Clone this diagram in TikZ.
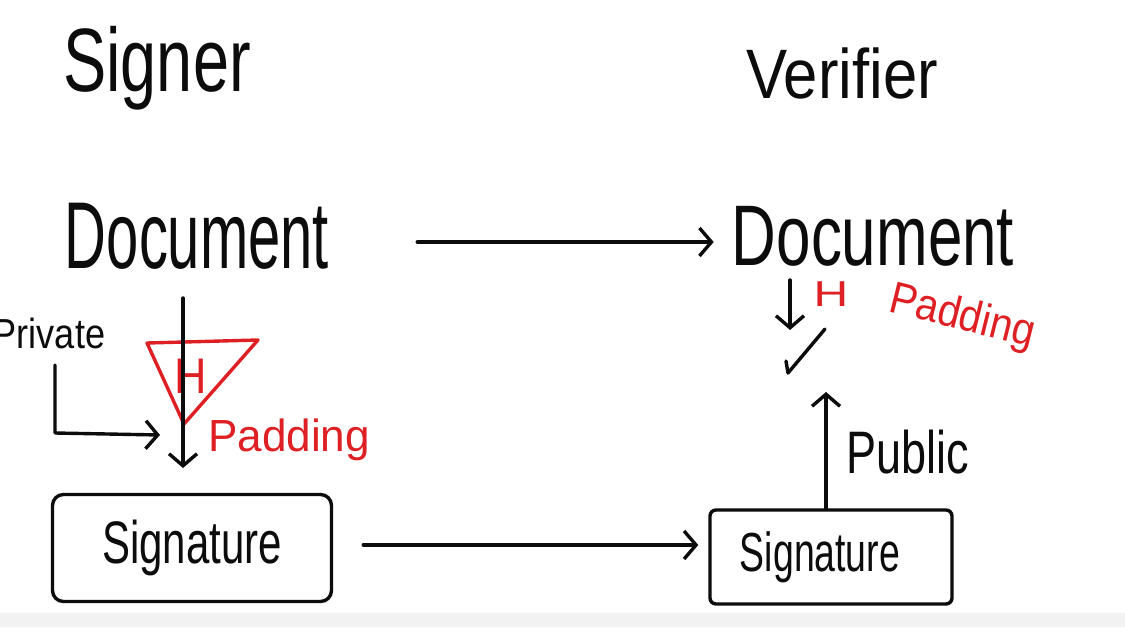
\documentclass[tikz,border=0pt]{standalone}
\usepackage{fontspec}
\setmainfont{Liberation Sans}
\usetikzlibrary{arrows.meta}
\definecolor{inkred}{RGB}{222,32,36}
\definecolor{inkblack}{RGB}{12,12,12}
\begin{document}
\begin{tikzpicture}[x=1pt,y=-1pt,
  ink/.style={line width=3.4pt, line cap=round, line join=round, draw=inkblack},
  redink/.style={line width=3.4pt, line cap=round, line join=round, draw=inkred},
  arr/.style={ink, -{Straight Barb[length=12pt,width=28pt,line width=3.4pt]}},
  lbl/.style={inner sep=0pt, text=inkblack},
  redlbl/.style={inner sep=0pt, text=inkred},
  sigbox/.style={ink, rounded corners=11pt, inner sep=0pt, text=inkblack},
]
\useasboundingbox (0,0) rectangle (1125,627);
\fill[white] (0,0) rectangle (1125,627);
\fill[black!5] (0,613) rectangle (1125,627);

% headings
\node[lbl] (signer) at (157,68) {\scalebox{0.72}[1]{\fontsize{90}{90}\selectfont Signer}};
\node[lbl] (verifier) at (842,73) {\scalebox{0.88}[1]{\fontsize{70}{70}\selectfont Verifier}};

% documents
\node[lbl] (docL) at (197,236) {\scalebox{0.61}[1]{\fontsize{95}{95}\selectfont Document}};
\node[lbl] (docR) at (873,236) {\scalebox{0.72}[1]{\fontsize{86}{86}\selectfont Document}};

% signatures
\node[sigbox, minimum width=279pt, minimum height=107pt] (sigL) at (192,548)
  {\scalebox{0.7}[1]{\fontsize{60}{60}\selectfont Signature}};
\node[sigbox, rounded corners=6pt, minimum width=242pt, minimum height=94pt] (sigR) at (831,557)
  {\raisebox{-6pt}{\scalebox{0.68}[1]{\fontsize{55}{55}\selectfont Signature}}\hspace*{22pt}};

% labels
\node[lbl] (priv) at (49,333) {\scalebox{0.86}[1]{\fontsize{42}{42}\selectfont Private}};
\node[lbl] (pub) at (908,452) {\scalebox{0.75}[1]{\fontsize{60}{60}\selectfont Public}};
\node[redlbl] (padL) at (289,440) {\scalebox{0.98}[1]{\fontsize{45}{45}\selectfont Padding}};
\node[redlbl] (hL) at (191,376) {\scalebox{0.9}[1]{\fontsize{50}{50}\selectfont H}};
\node[redlbl] (hR) at (831,294) {\scalebox{1.2}[0.9]{\fontsize{40}{40}\selectfont H}};
\node[redlbl, rotate=-14] (padR) at (962,318) {\scalebox{0.9}[1]{\fontsize{45}{45}\selectfont Padding}};

% hash triangle
\draw[redink] (147,343) -- (258,340) -- (184,424) -- cycle;

% coordinates
\coordinate (hashtop) at (183,298);
\coordinate (hashbot) at (183,468);
\coordinate (privstart) at (55,365);
\coordinate (privend) at (160,435);
\coordinate (pubtop) at (826,392);
\coordinate (vdtop) at (790,280);
\coordinate (vdbot) at (790,330);

% connectors
\draw[arr, shorten <=88pt, shorten >=18pt] (docL.east |- 0,242) -- (docR.west |- 0,242);
\draw[arr] (hashtop) -- (hashbot);
\draw[arr] (privstart) -- (55,433) -- (privend);
\draw[arr, shorten <=30pt, shorten >=10pt] (sigL.east |- 0,545) -- (sigR.west |- 0,545);
\draw[arr] (sigR.north -| pubtop) -- (pubtop);
\draw[arr] (vdtop) -- (vdbot);

% check mark
\draw[ink] (786,361) -- (788,373) -- (825,329);
\end{tikzpicture}
\end{document}
